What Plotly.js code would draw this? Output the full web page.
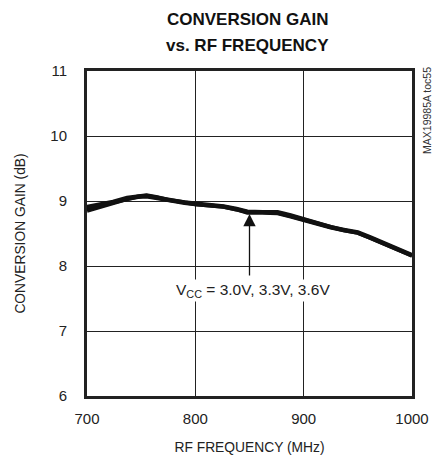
<!DOCTYPE html>
<html>
<head>
<meta charset="utf-8">
<script src="https://cdn.plot.ly/plotly-3.0.1.min.js"></script>
<style>
html,body{margin:0;padding:0;background:#fff;}
#chart{width:440px;height:456px;}
</style>
</head>
<body>
<div id="chart"></div>
<script>
// RF frequency (MHz)
const freq = [700, 712, 724, 737, 747, 755, 765, 777, 790, 800, 813, 826, 838, 848, 862, 876, 888, 900, 912, 925, 937, 950, 962, 975, 987, 1000];
// Conversion gain (dB) for each supply voltage
const gain30 = [8.85, 8.91, 8.96, 9.03, 9.06, 9.07, 9.04, 9.00, 8.97, 8.95, 8.93, 8.91, 8.87, 8.82, 8.82, 8.81, 8.76, 8.70, 8.64, 8.59, 8.55, 8.51, 8.43, 8.34, 8.25, 8.16];
const gain33 = [8.88, 8.93, 8.97, 9.04, 9.07, 9.08, 9.05, 9.01, 8.97, 8.95, 8.93, 8.91, 8.87, 8.83, 8.83, 8.82, 8.77, 8.71, 8.65, 8.60, 8.55, 8.51, 8.43, 8.34, 8.25, 8.16];
const gain36 = [8.91, 8.95, 8.99, 9.05, 9.08, 9.09, 9.06, 9.01, 8.98, 8.96, 8.94, 8.92, 8.88, 8.84, 8.83, 8.83, 8.78, 8.72, 8.66, 8.60, 8.56, 8.52, 8.44, 8.35, 8.26, 8.17];
const xTicks = [700, 800, 900, 1000];
const yTicks = [6, 7, 8, 9, 10, 11];
const arrowFreq = 850;
const arrowHeadGain = 8.80;
const arrowTailGain = 7.83;
const labelGain = 7.62;

const font = '"Liberation Sans", Arial, Helvetica, sans-serif';
const lineStyle = {color: '#111', width: 4};

const traces = [gain30, gain33, gain36].map((g, i) => ({
  x: freq, y: g, type: 'scatter', mode: 'lines',
  line: lineStyle, name: ['3.0V', '3.3V', '3.6V'][i], hoverinfo: 'skip'
}));

const layout = {
  width: 440, height: 456,
  margin: {l: 87, r: 28, t: 71, b: 60},
  paper_bgcolor: '#fff', plot_bgcolor: '#fff',
  showlegend: false,
  xaxis: {
    range: [700, 1000], tickvals: xTicks, ticktext: xTicks.map(String),
    showgrid: true, gridcolor: '#222', gridwidth: 1,
    showline: true, mirror: true, linecolor: '#222', linewidth: 3,
    ticks: '', zeroline: false, ticklabelstandoff: 7,
    tickfont: {family: font, size: 15, color: '#222'},
    title: {text: 'RF FREQUENCY (MHz)', font: {family: font, size: 13.8, color: '#222'}, standoff: 17}
  },
  yaxis: {
    range: [6, 11], tickvals: yTicks, ticktext: yTicks.map(String),
    showgrid: true, gridcolor: '#222', gridwidth: 1,
    showline: true, mirror: true, linecolor: '#222', linewidth: 3,
    ticks: '', zeroline: false, ticklabelstandoff: 14,
    tickfont: {family: font, size: 15, color: '#222'},
    title: {text: 'CONVERSION GAIN (dB)', font: {family: font, size: 13.8, color: '#222'}, standoff: 22}
  },
  annotations: [
    {
      x: 0.494, y: 1.157, xref: 'paper', yref: 'paper',
      text: '<b>CONVERSION GAIN</b>', showarrow: false,
      font: {family: font, size: 17, color: '#111'}, xanchor: 'center', yanchor: 'middle'
    },
    {
      x: 0.494, y: 1.077, xref: 'paper', yref: 'paper',
      text: '<b>vs. RF FREQUENCY</b>', showarrow: false,
      font: {family: font, size: 17, color: '#111'}, xanchor: 'center', yanchor: 'middle'
    },
    {
      x: arrowFreq, y: arrowHeadGain, xref: 'x', yref: 'y',
      ax: arrowFreq, ay: arrowTailGain, axref: 'x', ayref: 'y',
      text: '', showarrow: true, arrowhead: 2, arrowsize: 1.9, arrowwidth: 1.3, arrowcolor: '#111'
    },
    {
      x: arrowFreq + 3, y: labelGain, xref: 'x', yref: 'y',
      text: 'V<sub>CC</sub> = 3.0V, 3.3V, 3.6V', showarrow: false,
      font: {family: font, size: 15.5, color: '#222'}, xanchor: 'center', yanchor: 'middle',
      bgcolor: '#fff'
    },
    {
      x: 1.046, y: 0.88, xref: 'paper', yref: 'paper',
      text: 'MAX19985A toc55', textangle: -90, showarrow: false,
      font: {family: font, size: 10.5, color: '#333'}, xanchor: 'center', yanchor: 'middle'
    }
  ]
};

Plotly.newPlot('chart', traces, layout, {staticPlot: true, displayModeBar: false});
</script>
</body>
</html>
